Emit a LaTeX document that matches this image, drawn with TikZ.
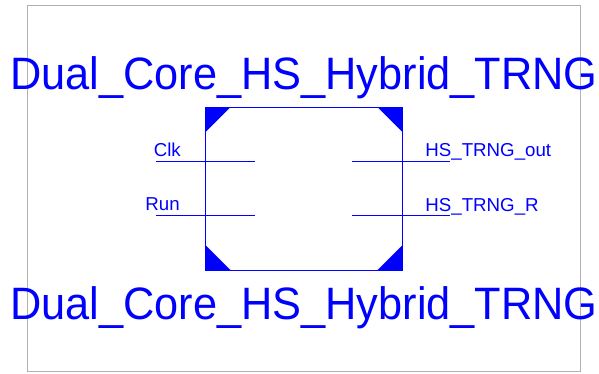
\documentclass[tikz,border=0pt]{standalone}
\usepackage{fontspec}
\usepackage{graphicx}
\setmainfont{Liberation Sans}
\definecolor{symblue}{RGB}{0,0,255}
\definecolor{framegray}{RGB}{178,178,178}
\tikzset{
  wire/.style={draw=symblue, line width=0.9pt},
  corner/.style={fill=symblue, draw=none},
  title/.style={text=symblue, inner sep=0pt, anchor=base west, font=\fontsize{45.4}{50}\selectfont},
  pinlabel/.style={text=symblue, inner sep=0pt, font=\fontsize{18.7}{22}\selectfont},
}
\begin{document}
\begin{tikzpicture}[x=1pt,y=1pt]
  \useasboundingbox (0,0) rectangle (599,373);
  % outer frame
  \draw[framegray, line width=1pt] (27.3,1.7) rectangle (580.7,367);
  % symbol body
  \coordinate (bl) at (205.3,103);
  \coordinate (tr) at (402.7,265.7);
  \draw[wire] (bl) rectangle (tr);
  \fill[corner] (205.3,265.7) -- ++(25,0) -- ++(-25,-25) -- cycle;
  \fill[corner] (402.7,265.7) -- ++(-25,0) -- ++(25,-25) -- cycle;
  \fill[corner] (205.3,103) -- ++(25,0) -- ++(-25,25) -- cycle;
  \fill[corner] (402.7,103) -- ++(-25,0) -- ++(25,25) -- cycle;
  % pins
  \coordinate (clkA) at (156,212);
  \coordinate (clkB) at (255,212);
  \coordinate (runA) at (156,158);
  \coordinate (runB) at (255,158);
  \coordinate (outA) at (352,211.5);
  \coordinate (outB) at (450,211.5);
  \coordinate (rA) at (352,157.5);
  \coordinate (rB) at (450,157.5);
  \draw[wire] (clkA) -- (clkB);
  \draw[wire] (runA) -- (runB);
  \draw[wire] (outA) -- (outB);
  \draw[wire] (rA) -- (rB);
  % pin labels
  \node[pinlabel, anchor=base east] (clk) at (181,216.3) {Clk};
  \node[pinlabel, anchor=base east] (run) at (180,163) {Run};
  \node[pinlabel, anchor=base west] (hsout) at (425.2,216.3) {HS\_TRNG\_out};
  \node[pinlabel, anchor=base west] (hsr) at (425.2,162) {HS\_TRNG\_R};
  % titles
  \node[title] (top) at (10.2,283.7) {\scalebox{0.954}[1]{Dual\_Core\_HS\_Hybrid\_TRNG}};
  \node[title] (bot) at (10.2,53.3) {\scalebox{0.954}[1]{Dual\_Core\_HS\_Hybrid\_TRNG}};
\end{tikzpicture}
\end{document}
